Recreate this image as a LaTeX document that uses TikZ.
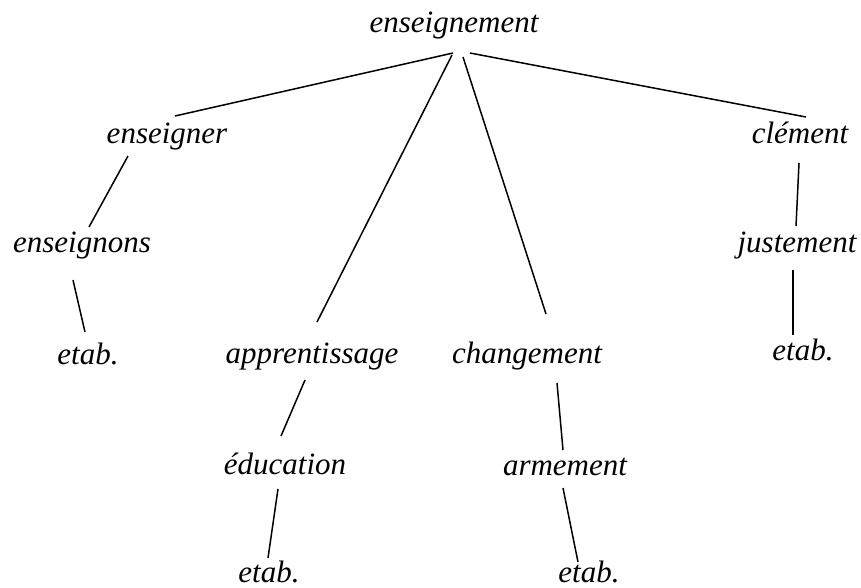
\documentclass[tikz,border=0pt]{standalone}
\usepackage{fontspec}
\setmainfont{Liberation Serif}[ItalicFont={Liberation Serif Italic}]
\newfontfamily\treefont{Liberation Serif Italic}
\usetikzlibrary{calc}

\begin{document}
\begin{tikzpicture}[
  x=1pt, y=-1pt,
  word/.style={font=\treefont\fontsize{31}{36}\selectfont, anchor=base, inner sep=0pt},
  link/.style={draw=black, line width=1.5pt}
]
\useasboundingbox (0,0) rectangle (861,587);

% words of the tree
\node[word] (root) at (454,32) {enseignement};
\node[word] (enseigner) at (167,143) {enseigner};
\node[word] (clement) at (800,143) {clément};
\node[word] (enseignons) at (82,252) {enseignons};
\node[word] (justement) at (797,252) {justement};
\node[word] (etabA) at (88,364) {etab.};
\node[word] (apprent) at (312,363) {apprentissage};
\node[word] (change) at (527,363) {changement};
\node[word] (etabB) at (803,360) {etab.};
\node[word] (education) at (285,474) {éducation};
\node[word] (armement) at (565,475) {armement};
\node[word] (etabC) at (269,582) {etab.};
\node[word] (etabD) at (589,582) {etab.};

% branches
\draw[link] ($(root.base)+(-1,21)$) -- ($(enseigner.base)+(8,-27)$);
\draw[link] ($(root.base)+(-2,23)$) -- ($(apprent.base)+(5,-41)$);
\draw[link] ($(root.base)+(9,25)$) -- ($(change.base)+(19,-49)$);
\draw[link] ($(root.base)+(16,21)$) -- ($(clement.base)+(6,-26)$);
\draw[link] ($(enseigner.base)+(-39,13)$) -- ($(enseignons.base)+(7,-25)$);
\draw[link] ($(enseignons.base)+(-9,28)$) -- ($(etabA.base)+(-3,-32)$);
\draw[link] ($(apprent.base)+(-7,17)$) -- ($(education.base)+(-4,-38)$);
\draw[link] ($(education.base)+(-7,15)$) -- ($(etabC.base)+(-1,-24)$);
\draw[link] ($(change.base)+(30,20)$) -- ($(armement.base)+(-2,-25)$);
\draw[link] ($(armement.base)+(-2,13)$) -- ($(etabD.base)+(-11,-20)$);
\draw[link] ($(clement.base)+(-1,20)$) -- ($(justement.base)+(-1,-26)$);
\draw[link] ($(justement.base)+(-4,18)$) -- ($(etabB.base)+(-10,-25)$);
\end{tikzpicture}
\end{document}
